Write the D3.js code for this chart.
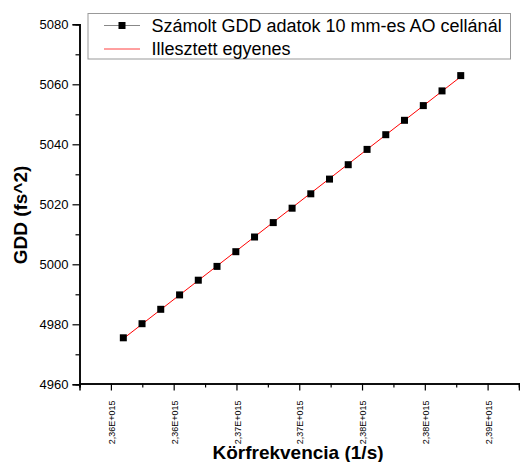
<!DOCTYPE html>
<html><head><meta charset="utf-8">
<script src="https://cdn.jsdelivr.net/npm/d3@7"></script>
<style>body{margin:0;background:#fff}svg{display:block;font-family:Arial,"Liberation Sans",sans-serif}</style>
</head><body>
<svg id="c" width="520" height="462"></svg>
<script>
// Angular frequency (units of 1e15 1/s)
const freq = [2.35849,2.35998,2.36147,2.36297,2.36446,2.36595,2.36745,2.36894,2.37043,2.37193,
              2.37342,2.37491,2.37640,2.37790,2.37939,2.38088,2.38238,2.38387,2.38536];
// GDD (fs^2)
const gdd = [4975.5,4980.2,4985.0,4989.8,4994.7,4999.3,5004.2,5009.1,5013.9,5018.7,
             5023.5,5028.4,5033.2,5038.3,5043.2,5048.0,5052.9,5057.8,5062.9];
const xTicks = [2.3575,2.3625,2.3675,2.3725,2.3775,2.3825,2.3875];
const xTickLabels = ["2,36E+015","2,36E+015","2,37E+015","2,37E+015","2,38E+015","2,38E+015","2,39E+015"];
const xMinorTicks = [2.355,2.360,2.365,2.370,2.375,2.380,2.385,2.390];
const yTicks = [4960,4980,5000,5020,5040,5060,5080];
const yMinorTicks = [4970,4990,5010,5030,5050,5070];
const legendLabels = ["Számolt GDD adatok 10 mm-es AO cellánál","Illesztett egyenes"];

const svg = d3.select("#c");
const x = d3.scaleLinear().domain([2.355,2.390]).range([79.5,519]);
const y = d3.scaleLinear().domain([4960,5080]).range([384.3,24.3]);

// least-squares fit
const n = freq.length, mx = d3.mean(freq), my = d3.mean(gdd);
let sxy=0,sxx=0; for(let i=0;i<n;i++){sxy+=(freq[i]-mx)*(gdd[i]-my);sxx+=(freq[i]-mx)**2;}
const b = sxy/sxx, a = my-b*mx;

// axes
const yAxis = svg.append("g").attr("transform","translate(79.5,0)")
  .call(d3.axisLeft(y).tickValues(yTicks).tickFormat(d3.format("d")).tickSize(7).tickPadding(4));
svg.append("g").attr("transform","translate(79.5,0)")
  .call(d3.axisLeft(y).tickValues(yMinorTicks).tickFormat("").tickSize(4));
const xAxis = svg.append("g").attr("transform","translate(0,383.5)")
  .call(d3.axisBottom(x).tickValues(xTicks).tickFormat((d,i)=>xTickLabels[i]).tickSize(7));
svg.append("g").attr("transform","translate(0,383.5)")
  .call(d3.axisBottom(x).tickValues(xMinorTicks).tickFormat("").tickSize(4));
svg.selectAll(".domain").attr("stroke","#000").attr("stroke-width",1.5);
svg.selectAll(".tick line").attr("stroke","#000").attr("stroke-width",1.2);
yAxis.selectAll("text").attr("font-size",13).attr("fill","#000")
  .attr("font-family","Arial, 'Liberation Sans', sans-serif");
xAxis.selectAll("text").attr("font-size",9).attr("fill","#000")
  .attr("font-family","Arial, 'Liberation Sans', sans-serif")
  .attr("text-anchor","end").attr("transform","translate(0.5,17) rotate(-90)")
  .attr("x",0).attr("y",0).attr("dy","0.35em");

// fitted line
svg.append("line")
  .attr("x1",x(freq[0])).attr("y1",y(a+b*freq[0]))
  .attr("x2",x(freq[n-1])).attr("y2",y(a+b*freq[n-1]))
  .attr("stroke","#ff0000").attr("stroke-width",1);
// points
svg.append("g").selectAll("rect").data(freq).join("rect")
  .attr("x",(d)=>x(d)-3.5).attr("y",(d,i)=>y(gdd[i])-3.5)
  .attr("width",7).attr("height",7).attr("fill","#000");

// axis titles
svg.append("text").attr("x",298).attr("y",459).attr("text-anchor","middle")
  .attr("font-weight","bold").attr("font-size",19).text("Körfrekvencia (1/s)");
svg.append("text").attr("transform","translate(26.5,215) rotate(-90)").attr("text-anchor","middle")
  .attr("font-weight","bold").attr("font-size",19).text("GDD (fs^2)");

// legend
const lg = svg.append("g");
lg.append("rect").attr("x",88).attr("y",13.5).attr("width",422.5).attr("height",45.5)
  .attr("fill","#fff").attr("stroke","#999").attr("stroke-width",1);
lg.append("line").attr("x1",104).attr("x2",140).attr("y1",25.5).attr("y2",25.5).attr("stroke","#888").attr("stroke-width",1);
lg.append("rect").attr("x",118.5).attr("y",22).attr("width",7).attr("height",7).attr("fill","#000");
lg.append("line").attr("x1",104).attr("x2",140).attr("y1",49).attr("y2",49).attr("stroke","#ff4040").attr("stroke-width",1);
lg.selectAll("text.l").data(legendLabels).join("text").attr("class","l")
  .attr("x",151.5).attr("y",(d,i)=>32+i*22.5).attr("font-size",18).attr("fill","#000").text(d=>d);
</script>
</body></html>
